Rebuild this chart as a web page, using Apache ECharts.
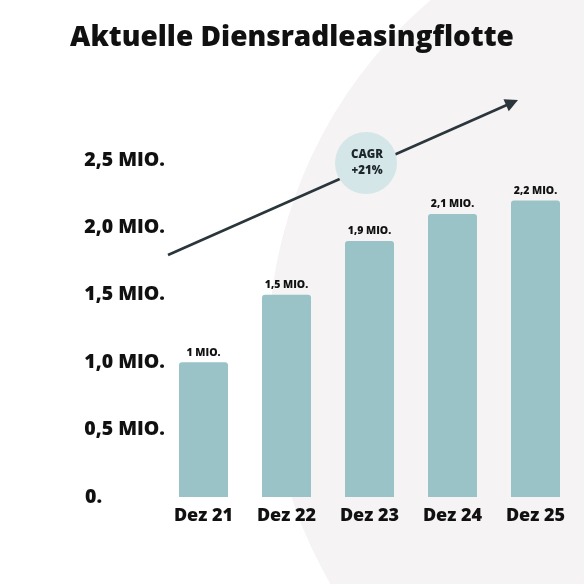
<!DOCTYPE html>
<html>
<head>
<meta charset="utf-8">
<script src="https://cdn.jsdelivr.net/npm/echarts@6/dist/echarts.min.js"></script>
<style>
  html, body { margin: 0; padding: 0; background: #fff; }
  #chart { width: 584px; height: 584px; }
</style>
</head>
<body>
<div id="chart"></div>
<script>
// Daten
var categories = ['Dez 21', 'Dez 22', 'Dez 23', 'Dez 24', 'Dez 25'];
var fleet = [1.0, 1.5, 1.9, 2.1, 2.2];
var barLabels = ['1 MIO.', '1,5 MIO.', '1,9 MIO.', '2,1 MIO.', '2,2 MIO.'];
var cagrText = 'CAGR\n+21%';

var dark = '#111111';
var font = 'Open Sans';

// Pfeil (Dekoration)
var arrowFrom = [168, 255];
var arrowTo = [518, 100];
var dx = arrowTo[0] - arrowFrom[0], dy = arrowTo[1] - arrowFrom[1];
var len = Math.sqrt(dx * dx + dy * dy);
var ux = dx / len, uy = dy / len;
var nx = -uy, ny = ux;
var headLen = 13, headW = 6.5;
var bx = arrowTo[0] - ux * headLen, by = arrowTo[1] - uy * headLen;

var chart = echarts.init(document.getElementById('chart'));
var option = {
  animation: false,
  backgroundColor: '#ffffff',
  title: {
    text: 'Aktuelle Diensradleasingflotte',
    left: 'center',
    top: 19,
    textStyle: { fontFamily: font, fontWeight: 800, fontSize: 28, color: dark }
  },
  graphic: [
    {
      type: 'circle', z: -10, silent: true,
      shape: { cx: 730, cy: 352, r: 462 },
      style: { fill: '#f5f3f4' }
    },
    {
      type: 'line', z: 5, silent: true,
      shape: { x1: arrowFrom[0], y1: arrowFrom[1], x2: bx + ux * 2, y2: by + uy * 2 },
      style: { stroke: '#2a363c', lineWidth: 2.6 }
    },
    {
      type: 'polygon', z: 5, silent: true,
      shape: { points: [arrowTo, [bx + nx * headW, by + ny * headW], [bx - nx * headW, by - ny * headW]] },
      style: { fill: '#2a363c' }
    },
    {
      type: 'circle', z: 6, silent: true,
      shape: { cx: 366, cy: 163, r: 31 },
      style: { fill: '#d5e6e8' }
    },
    {
      type: 'text', z: 7, silent: true,
      x: 367, y: 163,
      style: {
        text: cagrText, align: 'center', verticalAlign: 'middle',
        fontFamily: font, fontWeight: 800, fontSize: 11.5, lineHeight: 16, fill: '#1c262b'
      }
    }
  ],
  grid: { left: 162, right: 7, top: 160, bottom: 87 },
  xAxis: {
    type: 'category',
    data: categories,
    axisLine: { show: false },
    axisTick: { show: false },
    axisLabel: { margin: 10, color: dark, fontFamily: font, fontWeight: 800, fontSize: 18 }
  },
  yAxis: {
    type: 'value',
    min: 0, max: 2.5, interval: 0.5,
    splitLine: { show: false },
    axisLine: { show: false },
    axisLabel: {
      margin: -3,
      color: dark, fontFamily: font, fontWeight: 800, fontSize: 19.5,
      formatter: function (v) {
        if (v === 0) return '{z|0.}';
        return v.toFixed(1).replace('.', ',') + ' MIO.';
      },
      rich: {
        z: { width: 80, align: 'left', color: dark, fontFamily: font, fontWeight: 800, fontSize: 19.5 }
      }
    }
  },
  series: [
    {
      type: 'bar',
      data: fleet,
      barWidth: 49,
      z: 3,
      itemStyle: { color: '#99c3c7', borderRadius: [3, 3, 0, 0] },
      label: {
        show: true,
        position: 'top',
        distance: 4,
        color: dark, fontFamily: font, fontWeight: 800, fontSize: 10.5,
        formatter: function (p) { return barLabels[p.dataIndex]; }
      }
    }
  ]
};
chart.setOption(option);
</script>
</body>
</html>
